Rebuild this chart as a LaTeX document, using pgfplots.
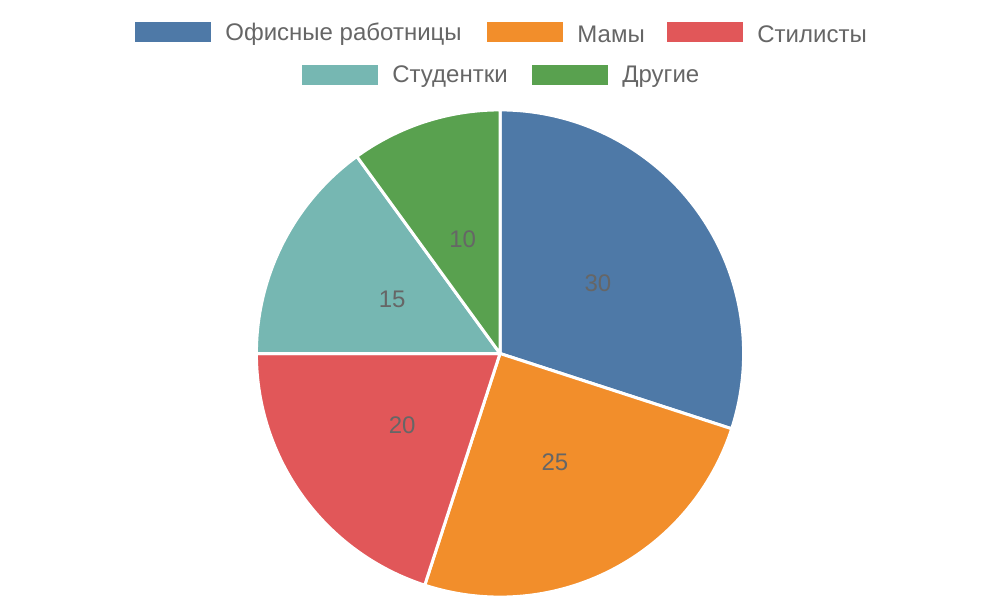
\documentclass[border=0pt]{standalone}
\usepackage{pgfplots}
\pgfplotsset{compat=1.18}
\usepackage{pgfplotstable}
\usepackage{fontspec}
\setmainfont{Liberation Sans}
\definecolor{cA}{HTML}{4E79A7}
\definecolor{cB}{HTML}{F28E2B}
\definecolor{cC}{HTML}{E15759}
\definecolor{cD}{HTML}{76B7B2}
\definecolor{cE}{HTML}{59A14F}
\definecolor{txt}{HTML}{666666}
\pgfplotstableread[col sep=comma]{
label,value,col
Офисные работницы,30,cA
Мамы,25,cB
Стилисты,20,cC
Студентки,15,cD
Другие,10,cE
}\piedata
\begin{document}
\begin{tikzpicture}
\path[use as bounding box] (0,0) rectangle (500pt,300pt);
\begin{axis}[scale only axis, width=500pt, height=300pt,
  xmin=0, xmax=1000, ymin=0, ymax=600, hide axis, clip=false]
\def\s{90}
\pgfplotsforeachungrouped \i in {0,...,4}{%
  \pgfplotstablegetelem{\i}{value}\of\piedata \let\v\pgfplotsretval
  \pgfplotstablegetelem{\i}{col}\of\piedata \let\c\pgfplotsretval
  \pgfmathsetmacro\e{\s-\v*3.6}%
  \edef\tmp{\noexpand\filldraw[fill=\c, draw=white, line width=1.5pt, line join=round]
    (axis cs:500,246.5) -- ([shift={(\s:121.8pt)}]axis cs:500,246.5)
    arc[start angle=\s, end angle=\e, radius=121.8pt] -- cycle;}%
  \tmp
  \let\s\e
}
\def\s{90}
\pgfplotsforeachungrouped \i in {0,...,4}{%
  \pgfplotstablegetelem{\i}{value}\of\piedata \let\v\pgfplotsretval
  \pgfmathsetmacro\e{\s-\v*3.6}%
  \pgfmathsetmacro\m{(\s+\e)/2}%
  \edef\tmp{\noexpand\node[text=txt, font=\noexpand\fontsize{12}{14}\noexpand\selectfont]
    at ([shift={(\m:60.5pt)}]axis cs:500,246) {\v};}%
  \tmp
  \let\s\e
}
% legend
\pgfplotsforeachungrouped \i/\x in {0/135, 1/487, 2/667, 3/302, 4/532}{%
  \ifnum\i<3 \def\y{568}\else\def\y{525}\fi
  \pgfplotstablegetelem{\i}{label}\of\piedata \let\l\pgfplotsretval
  \pgfplotstablegetelem{\i}{col}\of\piedata \let\c\pgfplotsretval
  \pgfmathsetmacro\xb{\x+76}%
  \pgfmathsetmacro\xt{\x+90}%
  \pgfmathsetmacro\ya{\y-10}%
  \pgfmathsetmacro\yb{\y+10}%
  \pgfmathsetmacro\yt{\y-2}%
  \edef\tmp{\noexpand\fill[\c] (axis cs:\x,\ya) rectangle (axis cs:\xb,\yb);
    \noexpand\node[anchor=west, text=txt, inner sep=0pt, font=\noexpand\fontsize{12}{14}\noexpand\selectfont] at (axis cs:\xt,\yt) {\l};}%
  \tmp
}
\end{axis}
\end{tikzpicture}
\end{document}
